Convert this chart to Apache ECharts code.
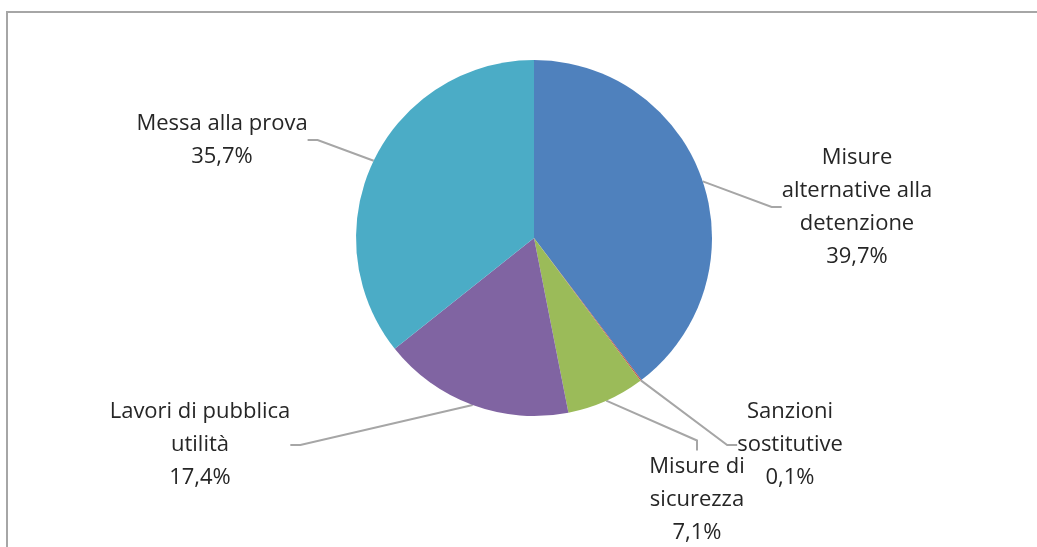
<!DOCTYPE html>
<html>
<head>
<meta charset="utf-8">
<script src="https://cdn.jsdelivr.net/npm/echarts@6/dist/echarts.min.js"></script>
<style>
html,body{margin:0;padding:0;background:#fff;}
#chart{width:1037px;height:547px;}
</style>
</head>
<body>
<div id="chart"></div>
<script>
const categories = ['Misure\nalternative alla\ndetenzione', 'Sanzioni\nsostitutive', 'Misure di\nsicurezza', 'Lavori di pubblica\nutilità', 'Messa alla prova'];
const values = [39.7, 0.1, 7.1, 17.4, 35.7];
const colors = ['#4f81bd', '#c0504d', '#9bbb59', '#8064a2', '#4bacc6'];
// label centre anchors (layout only)
const labelPos = [[857, 207], [790, 445], [697, 500], [200, 445], [222, 140]];

const chart = echarts.init(document.getElementById('chart'));
chart.setOption({
  animation: false,
  graphic: [{
    type: 'rect', shape: {x: 7, y: 12, width: 1100, height: 600},
    style: {fill: 'none', stroke: '#a6a6a6', lineWidth: 2}, silent: true
  }],
  series: [{
    type: 'pie',
    center: [534, 238],
    radius: 178,
    startAngle: 90,
    clockwise: true,
    avoidLabelOverlap: false,
    data: categories.map((c, i) => ({name: c, value: values[i], itemStyle: {color: colors[i]}})),
    itemStyle: {borderWidth: 0},
    label: {
      show: true,
      formatter: p => p.name + '\n' + p.value.toFixed(1).replace('.', ',') + '%',
      fontFamily: 'Open Sans',
      fontSize: 22,
      lineHeight: 33,
      color: '#262626',
      align: 'center'
    },
    labelLine: {show: true, length: 20, length2: 10, lineStyle: {color: '#a6a6a6', width: 2}},
    labelLayout: function (params) {
      const p = labelPos[params.dataIndex];
      return {x: p[0], y: p[1], align: 'center', verticalAlign: 'middle'};
    }
  }]
});
</script>
</body>
</html>
